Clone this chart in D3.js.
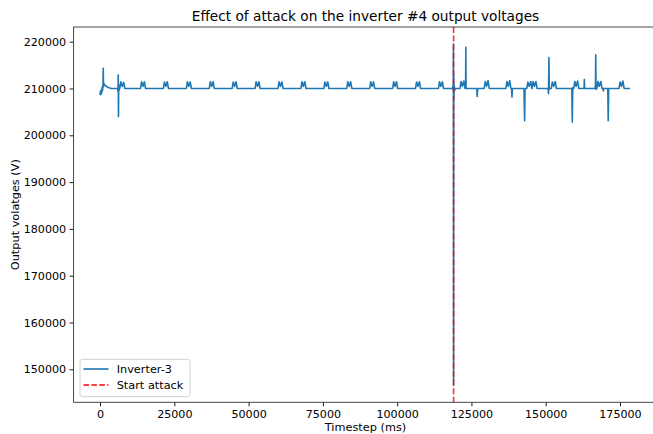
<!DOCTYPE html>
<html>
<head>
<meta charset="utf-8">
<script src="https://cdnjs.cloudflare.com/ajax/libs/d3/7.8.5/d3.min.js"></script>
<style>
body { margin: 0; background: #fff; }
svg { display: block; font-family: "DejaVu Sans", sans-serif; }
</style>
</head>
<body>
<div id="chart"></div>
<script>
// values
var chartTitle = "Effect of attack on the inverter #4 output voltages";
var seriesNames = ["Inverter-3", "Start attack"];
var attackStartMs = 119000;
var xTicks = [0, 25000, 50000, 75000, 100000, 125000, 150000, 175000];
var yTicks = [150000, 160000, 170000, 180000, 190000, 200000, 210000, 220000];
var xDomain = [-8900, 187600];
var yDomain = [142950, 223140];

// [timestep (ms), output voltage (V)]
var inverter3 = [
  [0, 208600], [120, 209400], [250, 208700], [400, 209700], [550, 209000], [700, 210300], [850, 209600],
  [1000, 210800], [1080, 214300], [1160, 210400], [1300, 211100], [1500, 210800], [2000, 210500],
  [2800, 210200], [3800, 210000],
  [5900, 210000], [6050, 209400], [6130, 212900], [6200, 204000], [6280, 210800], [6400, 209600],
  [6550, 210000],
  [6650, 210000], [7000, 211450], [7450, 210450], [7950, 211300], [8350, 210000],
  [13620, 210000], [13970, 211450], [14420, 210450], [14920, 211450], [15320, 210000],
  [21330, 210000], [21680, 211400], [22130, 210450], [22630, 211450], [23030, 210000],
  [29050, 210000], [29400, 211450], [29850, 210450], [30350, 211400], [30750, 210000],
  [36760, 210000], [37110, 211450], [37560, 210450], [38060, 211450], [38460, 210000],
  [44480, 210000], [44830, 211400], [45280, 210450], [45780, 211450], [46180, 210000],
  [52190, 210000], [52540, 211450], [52990, 210450], [53490, 211450], [53890, 210000],
  [59910, 210000], [60260, 211450], [60710, 210450], [61210, 211400], [61610, 210000],
  [67620, 210000], [67970, 211450], [68420, 210450], [68920, 211450], [69320, 210000],
  [75340, 210000], [75690, 211400], [76140, 210450], [76640, 211450], [77040, 210000],
  [83050, 210000], [83400, 211450], [83850, 210450], [84350, 211450], [84750, 210000],
  [90760, 210000], [91110, 211450], [91560, 210450], [92060, 211400], [92460, 210000],
  [98480, 210000], [98830, 211450], [99280, 210450], [99780, 211450], [100180, 210000],
  [106190, 210000], [106540, 211400], [106990, 210450], [107490, 211450], [107890, 210000],
  [113910, 210000], [114260, 211450], [114710, 210450], [115210, 211450], [115610, 210000],
  [118600, 210000], [118800, 210600], [118900, 209500], [118950, 219500], [119000, 146600],
  [119050, 212800], [119120, 207800], [119200, 210700], [119350, 209600], [119600, 210000],
  [121150, 210000], [121500, 211500], [121950, 210450], [122450, 211600], [122850, 210000],
  [122950, 210000], [123050, 210300], [123120, 218800], [123200, 210000],
  [126800, 210000], [126950, 208300], [127100, 210000],
  [129300, 210000], [129650, 211500], [130100, 210450], [130600, 211700], [131000, 210000],
  [136600, 210000], [136950, 211500], [137400, 210450], [137900, 211700], [138300, 210000],
  [138500, 210000], [138650, 208200], [138800, 210000],
  [142700, 210000], [142900, 203100], [143050, 210000],
  [143650, 210000], [144000, 211400], [144450, 210450], [144950, 211500], [145350, 210000],
  [145400, 210000], [145750, 211500], [146200, 210450], [146700, 211500], [147100, 210000],
  [150800, 210000], [150950, 208900], [151100, 216600], [151200, 209800], [151350, 210000],
  [151900, 210000], [152250, 211400], [152700, 210450], [153200, 211500], [153600, 210000],
  [158800, 210000], [158950, 202800], [159100, 210200],
  [159450, 210000], [159800, 211500], [160250, 210450], [160750, 211600], [161150, 210000],
  [162900, 210000], [163000, 211900], [163100, 210000],
  [166600, 210000], [166750, 210800], [166850, 217200], [166950, 209800], [167100, 210000],
  [167250, 210000], [167600, 211500], [168050, 210450], [168550, 211500], [168950, 210000],
  [169300, 210000], [169400, 209500], [169500, 210000],
  [170900, 210000], [171050, 203100], [171200, 210000],
  [174700, 210000], [175050, 211400], [175500, 210450], [176000, 211600], [176400, 210000],
  [178400, 210000]
];

var W = 653, H = 434;
var margin = { top: 27, left: 73.6, bottom: 31.7 };
var width = 583.8;   // right spine sits just past the picture edge
var height = H - margin.top - margin.bottom;

var svg = d3.select("#chart").append("svg")
    .attr("width", W)
    .attr("height", H);

var g = svg.append("g")
    .attr("transform", "translate(" + margin.left + "," + margin.top + ")");

var x = d3.scaleLinear().domain(xDomain).range([0, width]);
var y = d3.scaleLinear().domain(yDomain).range([height, 0]);

g.append("clipPath").attr("id", "plot-clip")
  .append("rect").attr("width", width).attr("height", height);

var line = d3.line()
    .x(function(d) { return x(d[0]); })
    .y(function(d) { return y(d[1]); });

g.append("path")
    .datum(inverter3)
    .attr("clip-path", "url(#plot-clip)")
    .attr("fill", "none")
    .attr("stroke", "#1f77b4")
    .attr("stroke-width", 1.6)
    .attr("stroke-linejoin", "round")
    .attr("d", line);

g.append("line")
    .attr("x1", x(attackStartMs)).attr("x2", x(attackStartMs))
    .attr("y1", 0).attr("y2", height)
    .attr("stroke", "red")
    .attr("stroke-opacity", 0.8)
    .attr("stroke-width", 1.6)
    .attr("stroke-dasharray", "6,2.6");

var xAxis = d3.axisBottom(x).tickValues(xTicks).tickFormat(d3.format("d"))
    .tickSizeInner(4).tickSizeOuter(0).tickPadding(3.5);
var yAxis = d3.axisLeft(y).tickValues(yTicks).tickFormat(d3.format("d"))
    .tickSizeInner(4).tickSizeOuter(0).tickPadding(3.5);

var gx = g.append("g")
    .attr("transform", "translate(0," + height + ")")
    .call(xAxis);
var gy = g.append("g").call(yAxis);

[gx, gy].forEach(function(a) {
    a.select(".domain").remove();
    a.selectAll(".tick line").attr("stroke", "#000").attr("stroke-width", 0.9);
    a.selectAll(".tick text")
        .attr("fill", "#000")
        .style("font-size", "11.1px")
        .style("font-family", "'DejaVu Sans', sans-serif");
});

// spines
g.append("rect")
    .attr("width", width).attr("height", height)
    .attr("fill", "none")
    .attr("stroke", "#333")
    .attr("stroke-width", 0.9);

svg.append("text")
    .attr("x", margin.left + width / 2)
    .attr("y", 21)
    .attr("text-anchor", "middle")
    .style("font-size", "13.7px")
    .text(chartTitle);

svg.append("text")
    .attr("x", margin.left + width / 2)
    .attr("y", 431)
    .attr("text-anchor", "middle")
    .style("font-size", "11.3px")
    .text("Timestep (ms)");

svg.append("text")
    .attr("transform", "translate(19," + (margin.top + height / 2) + ") rotate(-90)")
    .attr("text-anchor", "middle")
    .style("font-size", "11.3px")
    .text("Output volatges (V)");

// legend, lower left
var legend = svg.append("g").attr("transform", "translate(80,359.3)");
legend.append("rect")
    .attr("width", 110).attr("height", 37.4)
    .attr("rx", 2.5).attr("ry", 2.5)
    .attr("fill", "#fff").attr("fill-opacity", 0.8)
    .attr("stroke", "#ccc").attr("stroke-width", 0.9);

var legendRows = legend.selectAll(".row")
    .data(seriesNames)
    .enter().append("g")
    .attr("class", "row")
    .attr("transform", function(d, i) { return "translate(0," + (9.7 + i * 16) + ")"; });

legendRows.append("line")
    .attr("x1", 3.5).attr("x2", 28.5)
    .attr("stroke", function(d, i) { return i === 0 ? "#1f77b4" : "red"; })
    .attr("stroke-width", 1.6)
    .attr("stroke-dasharray", function(d, i) { return i === 0 ? null : "5.5,2.4"; });

legendRows.append("text")
    .attr("x", 36.7)
    .attr("y", 4)
    .style("font-size", "11.3px")
    .text(function(d) { return d; });
</script>
</body>
</html>
